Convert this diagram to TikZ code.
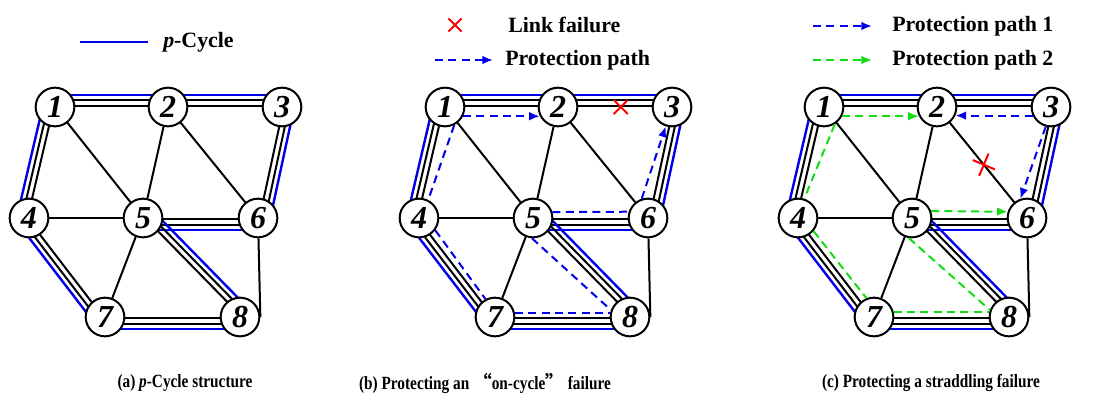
\documentclass[tikz,border=0pt]{standalone}
\usepackage{fontspec}
\setmainfont{Liberation Serif}
\newfontfamily\capfont{Liberation Serif}[FakeStretch=0.82]
\newfontfamily\cjk{Noto Sans CJK SC}
\usepackage{tikz}
\usetikzlibrary{calc, positioning, backgrounds, arrows.meta}
\definecolor{pblue}{RGB}{0,0,235}
\definecolor{pgreen}{RGB}{20,220,20}
\tikzstyle{router} = [circle, draw=black, line width=1.5pt, fill=white, minimum size=29pt, inner sep=0pt, font=\fontsize{24}{24}\selectfont\bfseries\itshape]
\tikzstyle{link} = [draw=black, line width=1.5pt]
\tikzstyle{pcyc} = [draw=pblue, line width=1.8pt]
\tikzstyle{bpath} = [draw=pblue, line width=1.5pt, dash pattern=on 6pt off 4pt, -{Latex[length=8pt,width=6.5pt]}]
\tikzstyle{gpath} = [bpath, draw=pgreen, fill=pgreen]
\tikzstyle{fail} = [draw=red, line width=1.5pt]
\tikzstyle{legend} = [anchor=west, inner sep=0pt, font=\fontsize{16.4}{18}\selectfont\bfseries]
\tikzstyle{caption} = [inner sep=0pt, font=\capfont\fontsize{14}{16}\selectfont\bfseries]
% on-cycle link: black double line with the p-cycle outside it
\newcommand{\cycline}[2]{%
  \draw[link] ($(#1)!1.1pt!90:(#2)$) -- ($(#2)!1.1pt!-90:(#1)$);
  \draw[link] ($(#1)!5.2pt!90:(#2)$) -- ($(#2)!5.2pt!-90:(#1)$);
  \draw[pcyc] ($(#1)!9pt!90:(#2)$) -- ($(#2)!9pt!-90:(#1)$);}
\newcommand{\failmark}[3]{%
  \draw[fail] ($(#1)+(#2:#3)$) -- ($(#1)+(#2+180:#3)$);
  \draw[fail] ($(#1)+(#2+90:#3)$) -- ($(#1)+(#2-90:#3)$);}

\begin{document}
\begin{tikzpicture}[x=0.75pt, y=-0.75pt]
\useasboundingbox (0,0) rectangle (1099,400);

% the same network in all three panels
\foreach \p/\dx in {a/0, b/390, c/769} {
  \begin{scope}[shift={(\dx,0)}]
    \node[router] (\p1) at (55,107) {1};
    \node[router] (\p2) at (168,107) {2};
    \node[router] (\p3) at (282,107) {3};
    \node[router] (\p4) at (29,218) {4};
    \node[router] (\p5) at (143,218) {5};
    \node[router] (\p6) at (258,218) {6};
    \node[router] (\p7) at (105,317) {7};
    \node[router] (\p8) at (240,317) {8};
    \begin{scope}[on background layer]
      \draw[link] (\p1) -- (\p5);
      \draw[link] (\p2) -- (\p5);
      \draw[link] (\p2) -- (\p6);
      \draw[link] (\p4) -- (\p5);
      \draw[link] (\p5) -- (\p7);
      \draw[link] (\p6) -- (\p8.east);
      \cycline{\p1}{\p2}
      \cycline{\p2}{\p3}
      \cycline{\p3}{\p6}
      \cycline{\p6}{\p5}
      \cycline{\p5}{\p8}
      \cycline{\p8}{\p7}
      \cycline{\p7}{\p4}
      \cycline{\p4}{\p1}
    \end{scope}
  \end{scope}
}

% (a) legend
\coordinate (la1) at (80,42);
\coordinate (la2) at (148,42);
\draw[pcyc] (la1) -- (la2);
\node[legend] (lacyc) at (163,42) {\textit{p}-Cycle};

% (b) legend, failure and protection path
\coordinate (lbx) at (455,25);
\failmark{lbx}{45}{7pt}
\node[legend] (lbfail) at (508,25) {Link failure};
\coordinate (lb1) at (435,60);
\coordinate (lb2) at (493,60);
\draw[bpath] (lb1) -- (lb2);
\node[legend] (lbpath) at (505,60) {Protection path};
\coordinate (bx) at ($(b2)!0.55!(b3)$);
\failmark{bx}{45}{7.5pt}
\draw[bpath] (b1.-27) -- (b2.-153);
\draw[bpath, -] (b1.-63) -- (b4.63);
\draw[bpath, -] (b4.-37) -- (b7.118);
\draw[bpath, -] (b7.12) -- (b8.168);
\draw[bpath, -] (b5.-93) -- (b8.160);
\draw[bpath, -] (b5.17) -- (b6.162);
\draw[bpath] (b6.108) -- (b3.-108);

% (c) legend, failure and protection paths
\coordinate (lc1) at (813,26);
\coordinate (lc2) at (872,26);
\draw[bpath] (lc1) -- (lc2);
\node[legend] (lcpath1) at (892,26) {Protection path 1};
\coordinate (lc3) at (813,60);
\coordinate (lc4) at (872,60);
\draw[gpath] (lc3) -- (lc4);
\node[legend] (lcpath2) at (892,60) {Protection path 2};
\coordinate (cx) at ($(c2)!0.52!(c6)$);
\failmark{cx}{-23}{9pt}
\draw[bpath] (c3.-155) -- (c2.-25);
\draw[bpath] (c3.-105) -- (c6.109);
\draw[gpath] (c1.-27) -- (c2.-153);
\draw[gpath, -] (c1.-58) -- (c4.72);
\draw[gpath, -] (c4.-40) -- (c7.112);
\draw[gpath, -] (c7.15) -- (c8.165);
\draw[gpath, -] (c5.-99) -- (c8.160);
\draw[gpath] (c5.20) -- (c6.162);

% captions
\node[caption] (capa) at (185,383) {(a) \textit{p}-Cycle structure};
\node[caption] (capb) at (485,383) {(b) Protecting an {\cjk “}on-cycle{\cjk ”} failure};
\node[caption] (capc) at (931,383) {(c) Protecting a straddling failure};
\end{tikzpicture}
\end{document}
